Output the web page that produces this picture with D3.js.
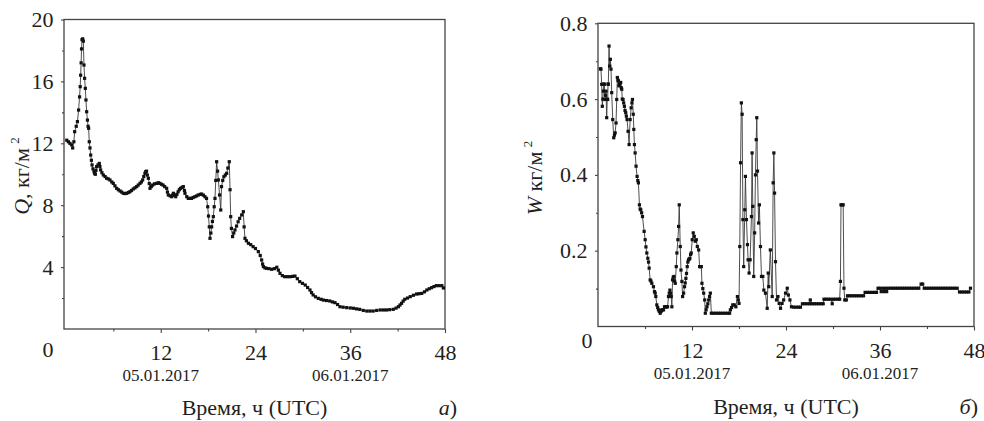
<!DOCTYPE html>
<html>
<head>
<meta charset="utf-8">
<script src="https://cdn.jsdelivr.net/npm/d3@7"></script>
<style>
  body { margin: 0; background: #fff; }
  .domain { display: none; }
  .tick line { stroke: #444; stroke-width: 1.1; }
  .frame { fill: none; stroke: #444; stroke-width: 1.3; }
  .series { fill: none; stroke: #3a3a3a; stroke-width: 0.9; }
  .mark { fill: #111; }
</style>
</head>
<body>
<svg id="chart"></svg>
<script>
// Q, kg/m2 (hours, value)
var qData = [
  [0.1,12.2],[0.3,12.1],[0.5,12.0],[0.7,11.9],[0.85,11.7],[1.0,12.1],[1.1,12.75],[1.3,13.1],[1.45,13.4],[1.6,14.15],
  [1.72,15.0],[1.8,15.66],[1.86,16.4],[1.92,17.2],[1.97,18.1],[2.03,18.7],[2.12,18.75],[2.2,18.6],[2.28,17.06],[2.36,16.2],
  [2.45,15.55],[2.53,14.8],[2.62,14.04],[2.72,13.5],[2.8,13.1],[2.87,12.97],[2.95,12.1],[3.04,11.7],[3.13,11.24],[3.22,10.9],
  [3.3,10.6],[3.42,10.35],[3.55,10.17],[3.64,10.05],[3.72,10.0],[3.8,10.25],[3.88,10.49],[4.05,10.6],[4.22,10.7],[4.3,10.5],
  [4.39,10.28],[4.55,10.1],[4.73,9.95],[4.95,9.85],[5.15,9.74],[5.35,9.7],[5.57,9.63],[5.8,9.5],[5.99,9.41],[6.2,9.25],
  [6.42,9.09],[6.63,9.0],[6.84,8.92],[7.05,8.85],[7.26,8.77],[7.47,8.75],[7.68,8.77],[7.9,8.82],[8.1,8.87],[8.3,8.95],
  [8.52,9.05],[8.73,9.12],[8.95,9.2],[9.15,9.3],[9.37,9.41],[9.55,9.5],[9.71,9.63],[9.85,9.85],[10.0,10.06],[10.1,10.17],
  [10.2,10.2],[10.3,9.95],[10.43,9.74],[10.55,9.4],[10.64,9.09],[10.8,9.2],[10.98,9.3],[11.2,9.38],[11.48,9.41],[11.7,9.45],
  [11.9,9.41],[12.1,9.35],[12.3,9.3],[12.5,9.2],[12.75,9.09],[12.85,8.85],[12.96,8.66],[13.2,8.6],[13.39,8.55],[13.5,8.65],
  [13.6,8.77],[13.75,8.65],[13.9,8.55],[14.05,8.7],[14.2,8.87],[14.35,9.0],[14.5,9.09],[14.7,9.15],[14.86,9.2],[15.0,8.95],
  [15.07,8.77],[15.3,8.55],[15.49,8.44],[15.7,8.44],[15.9,8.44],[16.1,8.5],[16.34,8.55],[16.55,8.6],[16.76,8.66],[17.0,8.7],
  [17.18,8.72],[17.4,8.65],[17.6,8.55],[17.8,8.44],[17.95,7.9],[18.05,7.3],[18.15,6.6],[18.24,5.86],[18.35,6.2],[18.45,6.6],
  [18.55,6.95],[18.66,7.26],[18.77,7.9],[18.87,8.44],[18.97,9.6],[19.08,10.81],[19.2,10.2],[19.3,9.63],[19.45,8.66],[19.6,7.69],
  [19.7,9.2],[19.85,9.6],[20.0,9.84],[20.18,9.95],[20.35,10.06],[20.5,10.4],[20.68,10.81],[20.78,9.0],[20.86,7.26],[20.95,6.5],
  [21.1,5.97],[21.25,6.2],[21.4,6.4],[21.6,6.65],[21.8,6.93],[22.0,7.15],[22.25,7.37],[22.46,7.58],[22.56,6.6],[22.67,5.86],
  [22.85,5.7],[23.1,5.54],[23.4,5.45],[23.7,5.32],[24.0,5.2],[24.36,5.0],[24.6,4.75],[24.78,4.46],[24.9,4.2],[25.0,4.03],
  [25.2,3.95],[25.4,3.92],[25.7,3.9],[26.05,3.86],[26.4,3.9],[26.7,3.99],[26.9,3.8],[27.1,3.6],[27.4,3.45],[27.7,3.38],
  [28.05,3.38],[28.4,3.38],[28.7,3.4],[29.0,3.42],[29.3,3.25],[29.6,3.06],[29.95,2.95],[30.3,2.84],[30.6,2.68],[30.9,2.52],
  [31.1,2.35],[31.3,2.2],[31.6,2.08],[31.95,1.98],[32.3,1.92],[32.6,1.87],[33.0,1.84],[33.4,1.81],[33.75,1.75],[34.07,1.7],
  [34.4,1.58],[34.7,1.44],[35.1,1.41],[35.55,1.38],[36.0,1.36],[36.4,1.34],[36.8,1.3],[37.2,1.27],[37.65,1.2],[38.1,1.16],
  [38.5,1.16],[38.9,1.16],[39.35,1.2],[39.8,1.23],[40.2,1.23],[40.6,1.23],[41.0,1.25],[41.45,1.27],[41.8,1.35],[42.1,1.44],
  [42.3,1.55],[42.5,1.66],[42.7,1.8],[42.9,1.92],[43.25,2.0],[43.6,2.09],[44.0,2.18],[44.4,2.26],[44.7,2.28],[45.05,2.3],
  [45.4,2.4],[45.7,2.52],[46.0,2.6],[46.3,2.67],[46.6,2.74],[46.9,2.8],[47.25,2.8],[47.6,2.8],[47.8,2.65]
];

var wData = [
  [0.3,0.68],[0.38,0.679],[0.47,0.639],[0.55,0.581],[0.62,0.6],[0.68,0.621],[0.75,0.64],[0.81,0.639],[0.9,0.599],[0.96,0.61],
  [1.02,0.621],[1.11,0.551],[1.18,0.6],[1.24,0.599],[1.28,0.64],[1.32,0.639],[1.41,0.74],[1.49,0.687],[1.58,0.705],[1.66,0.679],
  [1.75,0.617],[1.88,0.546],[2.01,0.498],[2.1,0.505],[2.19,0.511],[2.3,0.537],[2.39,0.599],[2.47,0.657],[2.55,0.65],[2.6,0.648],
  [2.67,0.635],[2.73,0.639],[2.8,0.64],[2.9,0.644],[2.97,0.63],[3.03,0.626],[3.1,0.6],[3.2,0.599],[3.28,0.59],[3.37,0.581],
  [3.45,0.57],[3.54,0.564],[3.62,0.555],[3.71,0.546],[3.84,0.515],[3.97,0.48],[4.1,0.546],[4.23,0.577],[4.33,0.59],[4.4,0.599],
  [4.5,0.56],[4.57,0.52],[4.65,0.48],[4.74,0.458],[4.86,0.423],[4.99,0.396],[5.08,0.385],[5.16,0.379],[5.29,0.321],[5.38,0.31],
  [5.46,0.308],[5.57,0.3],[5.68,0.29],[5.89,0.251],[6.02,0.229],[6.12,0.21],[6.23,0.194],[6.36,0.18],[6.45,0.17],[6.53,0.154],
  [6.66,0.123],[6.76,0.12],[6.87,0.114],[7.08,0.105],[7.21,0.092],[7.3,0.088],[7.38,0.079],[7.51,0.057],[7.62,0.05],[7.72,0.044],
  [7.83,0.04],[7.94,0.035],[8.05,0.04],[8.15,0.044],[8.25,0.044],[8.36,0.044],[8.49,0.052],[8.58,0.052],[8.66,0.052],[8.77,0.052],
  [8.88,0.052],[9.0,0.079],[9.1,0.088],[9.18,0.096],[9.27,0.088],[9.35,0.079],[9.43,0.052],[9.52,0.123],[9.6,0.13],[9.69,0.132],
  [9.78,0.12],[9.86,0.114],[9.99,0.158],[10.07,0.194],[10.2,0.229],[10.29,0.264],[10.37,0.321],[10.5,0.211],[10.59,0.149],[10.71,0.119],
  [10.8,0.079],[10.93,0.088],[11.05,0.105],[11.13,0.115],[11.22,0.127],[11.3,0.14],[11.39,0.158],[11.47,0.17],[11.56,0.176],[11.65,0.178],
  [11.73,0.18],[11.82,0.19],[11.9,0.194],[12.03,0.229],[12.16,0.247],[12.29,0.238],[12.42,0.225],[12.55,0.229],[12.68,0.211],[12.85,0.202],
  [12.97,0.158],[13.08,0.158],[13.19,0.158],[13.27,0.114],[13.38,0.1],[13.49,0.088],[13.62,0.07],[13.7,0.035],[13.8,0.044],[13.91,0.052],
  [14.02,0.06],[14.13,0.07],[14.24,0.079],[14.34,0.088],[14.47,0.035],[14.75,0.035],[15.05,0.035],[15.35,0.035],[15.65,0.035],[15.95,0.035],
  [16.25,0.035],[16.55,0.035],[16.8,0.035],[16.9,0.044],[17.05,0.05],[17.2,0.057],[17.4,0.057],[17.6,0.052],[17.8,0.079],[17.9,0.07],
  [18.0,0.061],[18.1,0.211],[18.2,0.432],[18.3,0.59],[18.4,0.56],[18.5,0.282],[18.6,0.158],[18.74,0.308],[18.82,0.396],[18.95,0.282],
  [19.08,0.216],[19.16,0.176],[19.29,0.141],[19.42,0.176],[19.59,0.29],[19.67,0.458],[19.76,0.317],[19.88,0.132],[20.0,0.247],[20.1,0.4],
  [20.2,0.493],[20.27,0.551],[20.36,0.41],[20.5,0.273],[20.6,0.321],[20.74,0.211],[20.87,0.132],[21.04,0.132],[21.17,0.096],[21.38,0.088],
  [21.6,0.048],[21.73,0.141],[21.8,0.105],[22.0,0.202],[22.24,0.079],[22.36,0.379],[22.45,0.458],[22.54,0.352],[22.66,0.171],[22.79,0.07],
  [22.97,0.079],[23.13,0.061],[23.3,0.048],[23.5,0.061],[23.7,0.07],[23.94,0.088],[24.16,0.101],[24.3,0.083],[24.5,0.07],[24.7,0.052],
  [25.0,0.051],[25.3,0.051],[25.6,0.051],[25.85,0.051],[26.1,0.06],[26.4,0.06],[26.7,0.06],[27.0,0.06],[27.1,0.07],[27.3,0.06],
  [27.6,0.06],[27.9,0.06],[28.2,0.06],[28.5,0.06],[28.75,0.06],[28.85,0.072],[29.1,0.072],[29.4,0.072],[29.7,0.072],[29.9,0.06],
  [30.05,0.072],[30.35,0.072],[30.65,0.072],[30.85,0.072],[30.95,0.119],[31.02,0.321],[31.15,0.321],[31.3,0.321],[31.4,0.101],[31.5,0.07],
  [31.7,0.07],[31.85,0.081],[32.1,0.081],[32.4,0.081],[32.7,0.081],[33.0,0.081],[33.3,0.081],[33.6,0.081],[33.9,0.081],[34.1,0.09],
  [34.4,0.09],[34.7,0.09],[35.0,0.09],[35.3,0.09],[35.55,0.09],[35.75,0.101],[36.0,0.101],[36.15,0.092],[36.35,0.101],[36.5,0.092],
  [36.7,0.101],[36.85,0.092],[37.05,0.101],[37.35,0.101],[37.65,0.101],[37.95,0.101],[38.25,0.101],[38.55,0.101],[38.85,0.101],[39.15,0.101],
  [39.45,0.101],[39.75,0.101],[40.05,0.101],[40.35,0.101],[40.65,0.101],[40.95,0.101],[41.25,0.112],[41.45,0.112],[41.65,0.101],[41.95,0.101],
  [42.25,0.101],[42.55,0.101],[42.85,0.101],[43.15,0.101],[43.45,0.101],[43.75,0.101],[44.05,0.101],[44.35,0.101],[44.65,0.101],[44.95,0.101],
  [45.25,0.101],[45.55,0.101],[45.85,0.101],[46.15,0.091],[46.45,0.091],[46.75,0.091],[47.05,0.091],[47.35,0.091],[47.55,0.101]
];

// tick values / labels
var hourTicks = [12, 24, 36, 48];
var hourMinor = [6, 18, 30, 42];
var dateHours = [12, 36];
var dateText = ["05.01.2017", "06.01.2017"];
var qTicks = [4, 8, 12, 16, 20];
var qMinor = [2, 6, 10, 14, 18];
var wTicks = [0.2, 0.4, 0.6, 0.8];
var wMinor = [0.1, 0.3, 0.5, 0.7];

var serif = "Liberation Serif";
var ink = "#231f20";

var w = 984, h = 421;
var svg = d3.select("#chart").attr("width", w).attr("height", h);

// force the serif face on a text/tspan selection, by attribute and by style
function txt(sel, size) {
    sel.attr("font-family", serif).style("font-family", "'" + serif + "'")
        .attr("fill", ink).style("fill", ink);
    if (size) sel.attr("font-size", size).style("font-size", size + "px");
    return sel;
}

function panel(opt) {
    var x = d3.scaleLinear().domain(opt.xDom).range([opt.left, opt.right]);
    var y = d3.scaleLinear().domain(opt.yDom).range([opt.bottom, opt.top]);
    var g = svg.append("g");

    g.append("rect").attr("class", "frame")
        .attr("x", opt.left).attr("y", opt.top)
        .attr("width", opt.right - opt.left).attr("height", opt.bottom - opt.top);

    // bottom axis
    var xa = g.append("g").attr("transform", "translate(0," + opt.bottom + ")")
        .call(d3.axisBottom(x).tickValues(hourTicks).tickSize(4).tickPadding(opt.xPad).tickFormat(d3.format("d")));
    g.append("g").attr("transform", "translate(0," + opt.bottom + ")")
        .call(d3.axisBottom(x).tickValues(hourMinor).tickSize(2.5).tickFormat(""));
    txt(xa, 22);
    txt(xa.selectAll("text"), 22);

    // left axis
    var ya = g.append("g").attr("transform", "translate(" + opt.left + ",0)")
        .call(d3.axisLeft(y).tickValues(opt.yTicks).tickSize(3).tickPadding(7.5).tickFormat(opt.fmt));
    g.append("g").attr("transform", "translate(" + opt.left + ",0)")
        .call(d3.axisLeft(y).tickValues(opt.yMinor).tickSize(2).tickFormat(""));
    txt(ya, 22);
    txt(ya.selectAll("text"), 22);

    // origin label
    txt(g.append("text"), 22).attr("x", opt.zeroX).attr("y", opt.zeroY)
        .attr("text-anchor", "middle").text("0");

    // dates
    txt(g.selectAll(".date").data(dateHours).enter().append("text"), 17)
        .attr("x", function(d) { return x(d); })
        .attr("y", opt.bottom + 52)
        .attr("text-anchor", "middle")
        .text(function(d, i) { return dateText[i]; });

    // axis title + panel letter
    txt(g.append("text"), 22).attr("x", (opt.left + opt.right) / 2).attr("y", opt.titleY)
        .attr("text-anchor", "middle").text("Время, ч (UTC)");
    var lt = txt(g.append("text"), 22).attr("x", opt.letterX).attr("y", opt.titleY)
        .attr("text-anchor", "end");
    txt(lt.append("tspan"), 22).attr("font-style", "italic").style("font-style", "italic").text(opt.letter);
    txt(lt.append("tspan"), 22).text(")");

    // y label
    var yl = txt(g.append("text"), 22)
        .attr("transform", "translate(" + opt.ylabX + "," + opt.ylabY + ") rotate(-90)")
        .attr("text-anchor", "middle");
    txt(yl.append("tspan"), 22).attr("font-style", "italic").style("font-style", "italic").text(opt.sym);
    txt(yl.append("tspan"), 22).text(opt.unit + "\u2009");
    txt(yl.append("tspan"), 13).attr("dy", "-0.8em").text("2");

    // series
    var line = d3.line()
        .x(function(d) { return x(d[0]); })
        .y(function(d) { return y(d[1]); });
    g.append("path").datum(opt.data).attr("class", "series").attr("d", line);
    g.selectAll(".mark").data(opt.data).enter().append("rect")
        .attr("class", "mark")
        .attr("x", function(d) { return x(d[0]) - 1.6; })
        .attr("y", function(d) { return y(d[1]) - 1.6; })
        .attr("width", 3.2).attr("height", 3.2);
}

panel({
    left: 64, right: 445, top: 19.5, bottom: 329,
    xDom: [-0.25, 48], yDom: [0, 20],
    yTicks: qTicks, yMinor: qMinor, fmt: d3.format("d"),
    xPad: 11, zeroX: 48, zeroY: 357, titleY: 415,
    letter: "а", letterX: 457,
    ylabX: 29, ylabY: 176, sym: "Q", unit: ", кг/м",
    data: qData
});

panel({
    left: 598, right: 974, top: 23.3, bottom: 326.5,
    xDom: [0, 48], yDom: [0, 0.8],
    yTicks: wTicks, yMinor: wMinor, fmt: d3.format(".1f"),
    xPad: 12, zeroX: 587, zeroY: 348, titleY: 414,
    letter: "б", letterX: 978,
    ylabX: 542, ylabY: 178, sym: "W", unit: " кг/м",
    data: wData
});
</script>
</body>
</html>
